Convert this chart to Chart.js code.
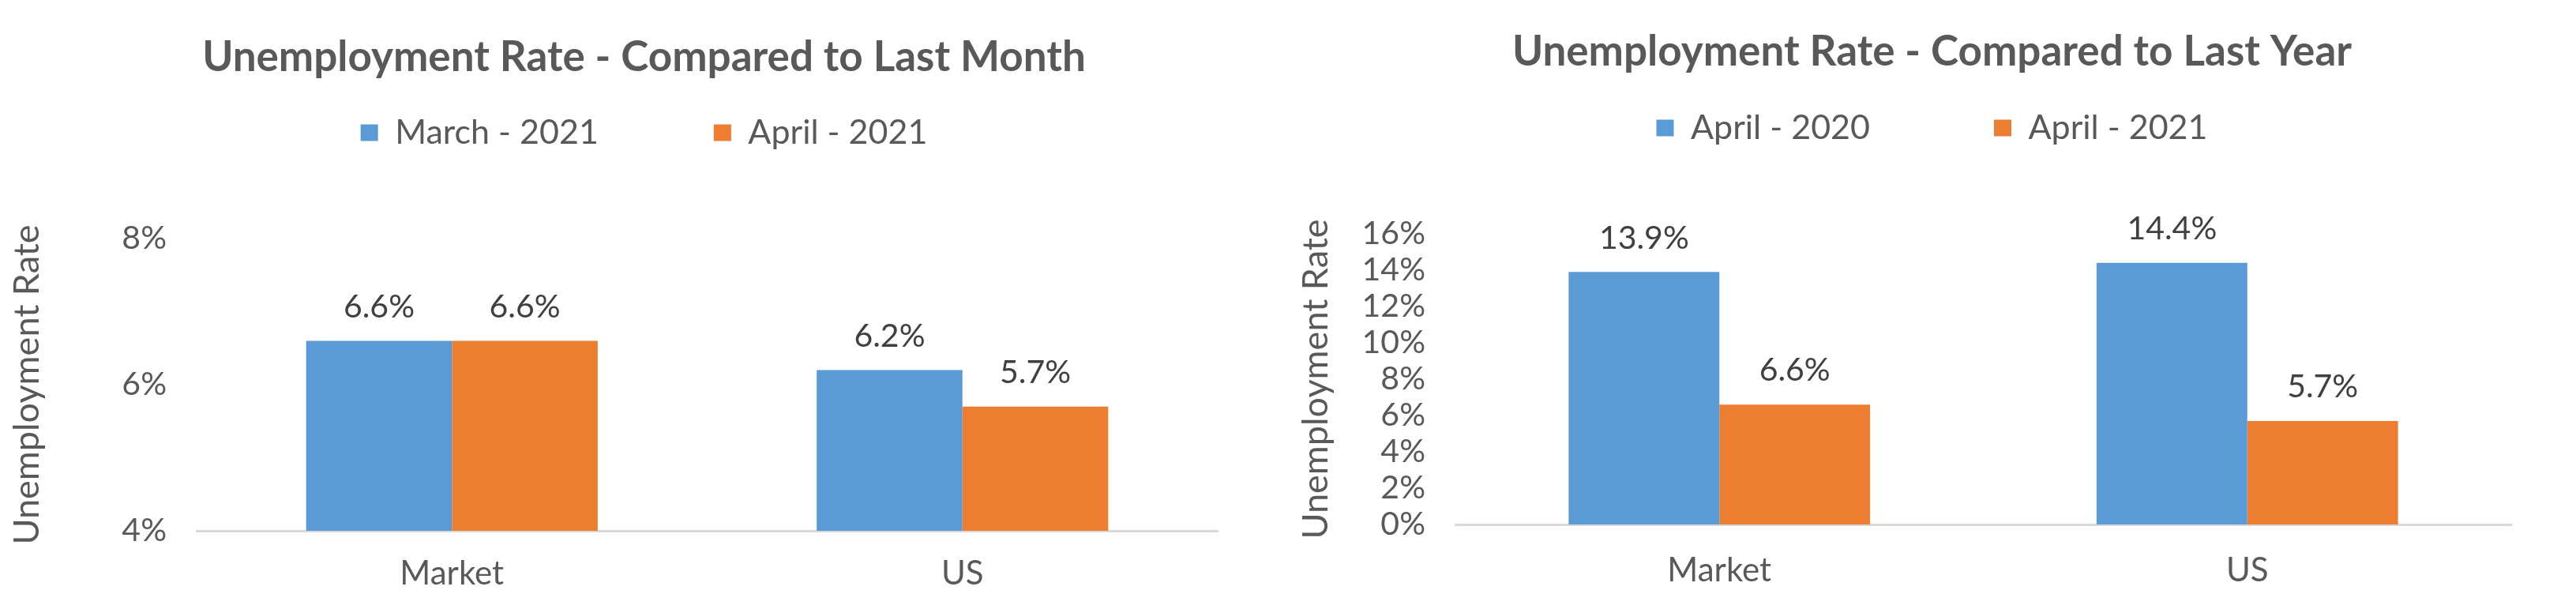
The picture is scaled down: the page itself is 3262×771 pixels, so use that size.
<!DOCTYPE html>
<html>
<head>
<meta charset="utf-8">
<script src="https://cdn.jsdelivr.net/npm/chart.js@4.4.1/dist/chart.umd.min.js"></script>
<style>
  html, body { margin: 0; padding: 0; background: #ffffff; }
  #wrap { position: relative; width: 3262px; height: 771px; overflow: hidden; }
  canvas { position: absolute; top: 0; }
  #c1 { left: 0; }
  #c2 { left: 1631px; }
</style>
</head>
<body>
<div id="wrap">
  <canvas id="c1" width="1631" height="771"></canvas>
  <canvas id="c2" width="1631" height="771"></canvas>
</div>
<script>
// ---- data ----
const categories = ['Market', 'US'];

const monthTitle = 'Unemployment Rate - Compared to Last Month';
const monthSeriesNames = ['March - 2021', 'April - 2021'];
const march2021 = [6.6, 6.2];
const april2021Month = [6.6, 5.7];
const monthAxis = { min: 4, max: 8, step: 2 };

const yearTitle = 'Unemployment Rate - Compared to Last Year';
const yearSeriesNames = ['April - 2020', 'April - 2021'];
const april2020 = [13.9, 14.4];
const april2021Year = [6.6, 5.7];
const yearAxis = { min: 0, max: 16, step: 2 };

const yAxisTitle = 'Unemployment Rate';

// ---- style ----
const FONT = 'Lato';
const BLUE = '#5B9BD5';
const ORANGE = '#ED7D31';
const TEXT = '#595959';
const LABEL = '#404040';

Chart.defaults.font.family = FONT;

const valueLabels = {
  id: 'valueLabels',
  afterDatasetsDraw(chart) {
    const ctx = chart.ctx;
    ctx.save();
    ctx.font = '41px ' + FONT;
    ctx.fillStyle = LABEL;
    ctx.textAlign = 'center';
    ctx.textBaseline = 'middle';
    chart.data.datasets.forEach((ds, di) => {
      const meta = chart.getDatasetMeta(di);
      meta.data.forEach((bar, i) => {
        ctx.fillText(ds.data[i].toFixed(1) + '%', bar.x, bar.y - 43);
      });
    });
    ctx.restore();
  }
};

function buildChart(id, p) {
  return new Chart(document.getElementById(id), {
    type: 'bar',
    data: {
      labels: categories,
      datasets: [
        { label: p.names[0], data: p.series[0], backgroundColor: BLUE, borderWidth: 0 },
        { label: p.names[1], data: p.series[1], backgroundColor: ORANGE, borderWidth: 0 }
      ]
    },
    options: {
      responsive: false,
      animation: false,
      events: [],
      layout: { padding: { left: p.padX, right: p.padX, top: p.padTop, bottom: 0 } },
      datasets: { bar: { categoryPercentage: 0.571, barPercentage: 1 } },
      plugins: {
        legend: {
          position: 'top', weight: 3000, align: 'center',
          labels: { boxWidth: 22, boxHeight: 21, padding: p.legendGap, color: TEXT, font: { size: 43 } }
        },
        title: {
          display: true, text: p.title, weight: 2000, color: TEXT,
          font: { size: 53, weight: 'bold', lineHeight: 1 },
          padding: { top: p.titleTop, bottom: p.titleBottom }
        },
        tooltip: { enabled: false }
      },
      scales: {
        x: {
          grid: { display: false, drawTicks: false },
          border: { display: true, color: '#D9D9D9', width: 3 },
          ticks: { color: TEXT, font: { size: 42 }, padding: p.xPad },
          afterFit: s => { s.height = p.xHeight; }
        },
        y: {
          min: p.axis.min, max: p.axis.max,
          grid: { display: false, drawTicks: false },
          border: { display: false },
          ticks: { stepSize: p.axis.step, autoSkip: false, color: TEXT, font: { size: 41 }, padding: 38,
                   callback: v => v + '%' },
          title: { display: true, text: yAxisTitle, color: TEXT, font: { size: 45 },
                   padding: { top: p.yTitleTop, bottom: 0 } },
          afterFit: s => { s.width = p.yWidth; }
        }
      }
    },
    plugins: [valueLabels]
  });
}

buildChart('c1', {
  title: monthTitle, names: monthSeriesNames, series: [march2021, april2021Month], axis: monthAxis,
  padX: 89, legendGap: 146, padTop: 146.5 - 146,
  titleTop: -153.5, titleBottom: 203,
  xPad: 29, xHeight: 99, yWidth: 160, yTitleTop: -82
});

buildChart('c2', {
  title: yearTitle, names: yearSeriesNames, series: [april2020, april2021Year], axis: yearAxis,
  padX: 82, legendGap: 157, padTop: 140.5 - 157,
  titleTop: -154.5, titleBottom: 204,
  xPad: 33, xHeight: 107, yWidth: 130, yTitleTop: -74
});
</script>
</body>
</html>
